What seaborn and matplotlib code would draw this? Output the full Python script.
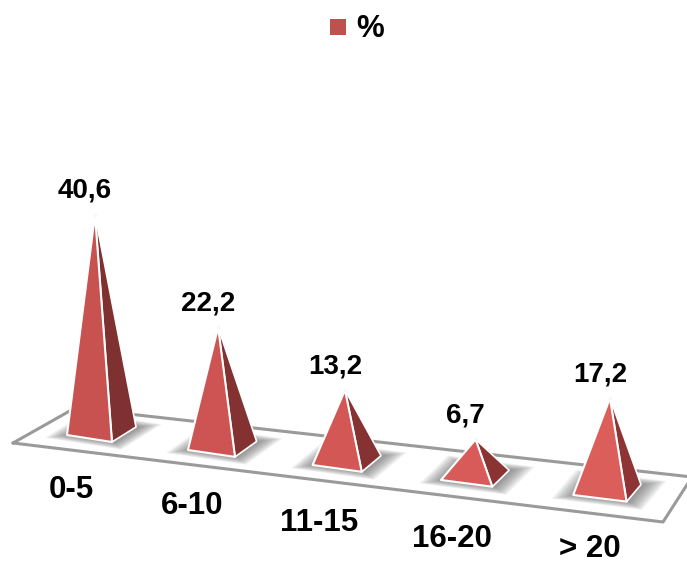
"""Pyramid chart of percentages per class, drawn on a tilted floor."""

import numpy as np
import pandas as pd
import matplotlib.pyplot as plt
from matplotlib.patches import Polygon
import seaborn as sns

categories = ['0-5', '6-10', '11-15', '16-20', '> 20']
values = [40.6, 22.2, 13.2, 6.7, 17.2]
value_labels = ['40,6', '22,2', '13,2', '6,7', '17,2']

front_colors = ['#C85250', '#CD5452', '#D25755', '#D85B59', '#DB5E5B']
side_colors = ['#7F3030', '#833131', '#873232', '#8B3333', '#8E3434']

# scale of the picture: one category and one percent in pixels
PX_PER_CAT = 125.0
PX_PER_UNIT = 5.33
ORIGIN = (95.0, 431.0)
WIDTH, HEIGHT = 687, 565


def to_data(px, py):
    """Pixel position in the reference to data coordinates."""
    return (px - ORIGIN[0]) / PX_PER_CAT, (ORIGIN[1] - py) / PX_PER_UNIT


def draw_pyramid(ax, i, value):
    """One pyramid, its height comes from the value."""
    ax_px = 95 + 121.25 * i + 1.875 * i ** 2
    base_y = 431 + 14.7 * i
    apex = (to_data(ax_px, base_y)[0], to_data(ax_px, base_y)[1] + value)

    fl = np.array([ax_px - 28 - 2.2 * i, 435 + 15 * i])
    fr = np.array([ax_px + 17 - 0.1 * i, 442 + 14.9 * i])
    br = np.array([ax_px + 41 - 2.5 * i, 427 + 14.4 * i])
    bl = fl + br - fr
    center = (fl + br) / 2

    # soft shadow on the floor
    for grow in np.linspace(1.7, 1.05, 14):
        quad = [center + (p - center) * grow + np.array([2, 0]) for p in (fl, fr, br, bl)]
        ax.add_patch(Polygon([to_data(*p) for p in quad], facecolor='#555555',
                             edgecolor='none', alpha=0.06, zorder=2))

    ax.add_patch(Polygon([to_data(*fr), to_data(*br), apex], facecolor=side_colors[i],
                         edgecolor='white', linewidth=1.2, joinstyle='round', zorder=3))
    ax.add_patch(Polygon([to_data(*fl), to_data(*fr), apex], facecolor=front_colors[i],
                         edgecolor='white', linewidth=1.5, joinstyle='round', zorder=4))
    return apex


sns.set_theme(style='white')
plt.rcParams['font.family'] = ['Liberation Sans', 'DejaVu Sans']

fig = plt.figure(figsize=(WIDTH / 100, HEIGHT / 100), dpi=100)
ax = fig.add_axes([0, 0, 1, 1])
ax.set_xlim(to_data(0, 0)[0], to_data(WIDTH, 0)[0])
ax.set_ylim(to_data(0, HEIGHT)[1], to_data(0, 0)[1])
ax.axis('off')

# floor outline
floor = pd.DataFrame([to_data(*p) for p in [(13, 443), (75, 408), (692, 477), (663, 522), (13, 443)]],
                     columns=['x', 'y'])
sns.lineplot(data=floor, x='x', y='y', sort=False, estimator=None, color='#9A9A9A',
             linewidth=2.2, legend=False, ax=ax, zorder=1)

apexes = [draw_pyramid(ax, i, v) for i, v in enumerate(values)]

plot_df = pd.DataFrame(apexes, columns=['x', 'y'])
plot_df['label'] = value_labels
sns.scatterplot(data=plot_df, x='x', y='y', color='#FBF4F4', s=6, linewidth=0,
                legend=False, ax=ax, zorder=5)
ax.set_xlabel('')
ax.set_ylabel('')

# value labels above the tips
for row in plot_df.itertuples():
    ax.annotate(row.label, (row.x, row.y), xytext=(-7.2, 17), textcoords='offset points',
                ha='center', va='center', fontsize=20, fontweight='bold', color='black', zorder=6)

# category labels in front of the floor, the last one kept inside the picture
for i, name in enumerate(categories):
    lx, ly = to_data(71 + 118.5 * i + 2.8 * i ** 2, min(490 + 16.3 * i, 549))
    ax.text(lx, ly, name, ha='center', va='center', fontsize=22.5, fontweight='bold', color='black')

# legend
lx, ly = to_data(338, 27)
ax.scatter([lx], [ly], marker='s', s=125, color='#C0504D', linewidth=0)
lx, ly = to_data(370, 29)
ax.text(lx, ly, '%', ha='center', va='center', fontsize=22.5, fontweight='bold', color='black')

fig.savefig('out.png', dpi=100)
